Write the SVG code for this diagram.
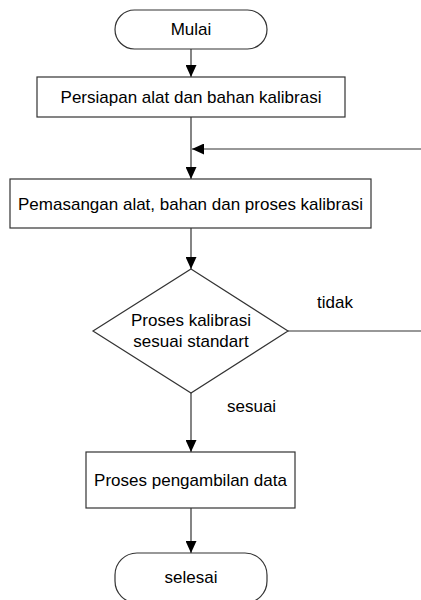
<svg xmlns="http://www.w3.org/2000/svg" width="421" height="600" viewBox="0 0 421 600">
<defs>
<marker id="arr" viewBox="0 0 12 11" refX="12" refY="5.5" markerWidth="12" markerHeight="11" markerUnits="userSpaceOnUse" orient="auto">
<path d="M0,0 L12,5.5 L0,11 Z" fill="#000"/>
</marker>
<style>
.shape{fill:#fff;stroke:#333;stroke-width:1.2}
.line{fill:none;stroke:#333;stroke-width:1.2}
text{font-family:"Liberation Sans",Arial,sans-serif;font-size:17px;fill:#000}
.c{text-anchor:middle}
</style>
</defs>
<rect width="421" height="600" fill="#fff"/>
<g id="connectors">
<line class="line" x1="191" y1="49" x2="191" y2="77" marker-end="url(#arr)"/>
<line class="line" x1="191" y1="117" x2="191" y2="179" marker-end="url(#arr)"/>
<line class="line" x1="421" y1="149" x2="192" y2="149" marker-end="url(#arr)"/>
<line class="line" x1="191" y1="228" x2="191" y2="269" marker-end="url(#arr)"/>
<line class="line" x1="288" y1="331" x2="421" y2="331"/>
<line class="line" x1="191" y1="393" x2="191" y2="452" marker-end="url(#arr)"/>
<line class="line" x1="191" y1="508" x2="191" y2="553" marker-end="url(#arr)"/>
<text x="317" y="308">tidak</text>
<text x="227" y="412">sesuai</text>
</g>
<g id="mulai">
<rect class="shape" x="115" y="10" width="152" height="39" rx="19.5" ry="19.5"/>
<text class="c" x="191" y="35">Mulai</text>
</g>
<g id="persiapan">
<rect class="shape" x="37" y="77" width="308" height="40"/>
<text class="c" x="191" y="103">Persiapan alat dan bahan kalibrasi</text>
</g>
<g id="pemasangan">
<rect class="shape" x="10" y="179" width="361" height="49"/>
<text class="c" x="190.5" y="209.5">Pemasangan alat, bahan dan proses kalibrasi</text>
</g>
<g id="keputusan">
<polygon class="shape" points="191,269 288,331 191,393 93,331"/>
<text class="c" x="191" y="326">Proses kalibrasi</text>
<text class="c" x="191" y="347">sesuai standart</text>
</g>
<g id="pengambilan">
<rect class="shape" x="86" y="452" width="209" height="56"/>
<text class="c" x="190.5" y="486">Proses pengambilan data</text>
</g>
<g id="selesai">
<rect class="shape" x="115" y="553" width="152" height="50" rx="22" ry="22"/>
<text class="c" x="191" y="583">selesai</text>
</g>
</svg>
